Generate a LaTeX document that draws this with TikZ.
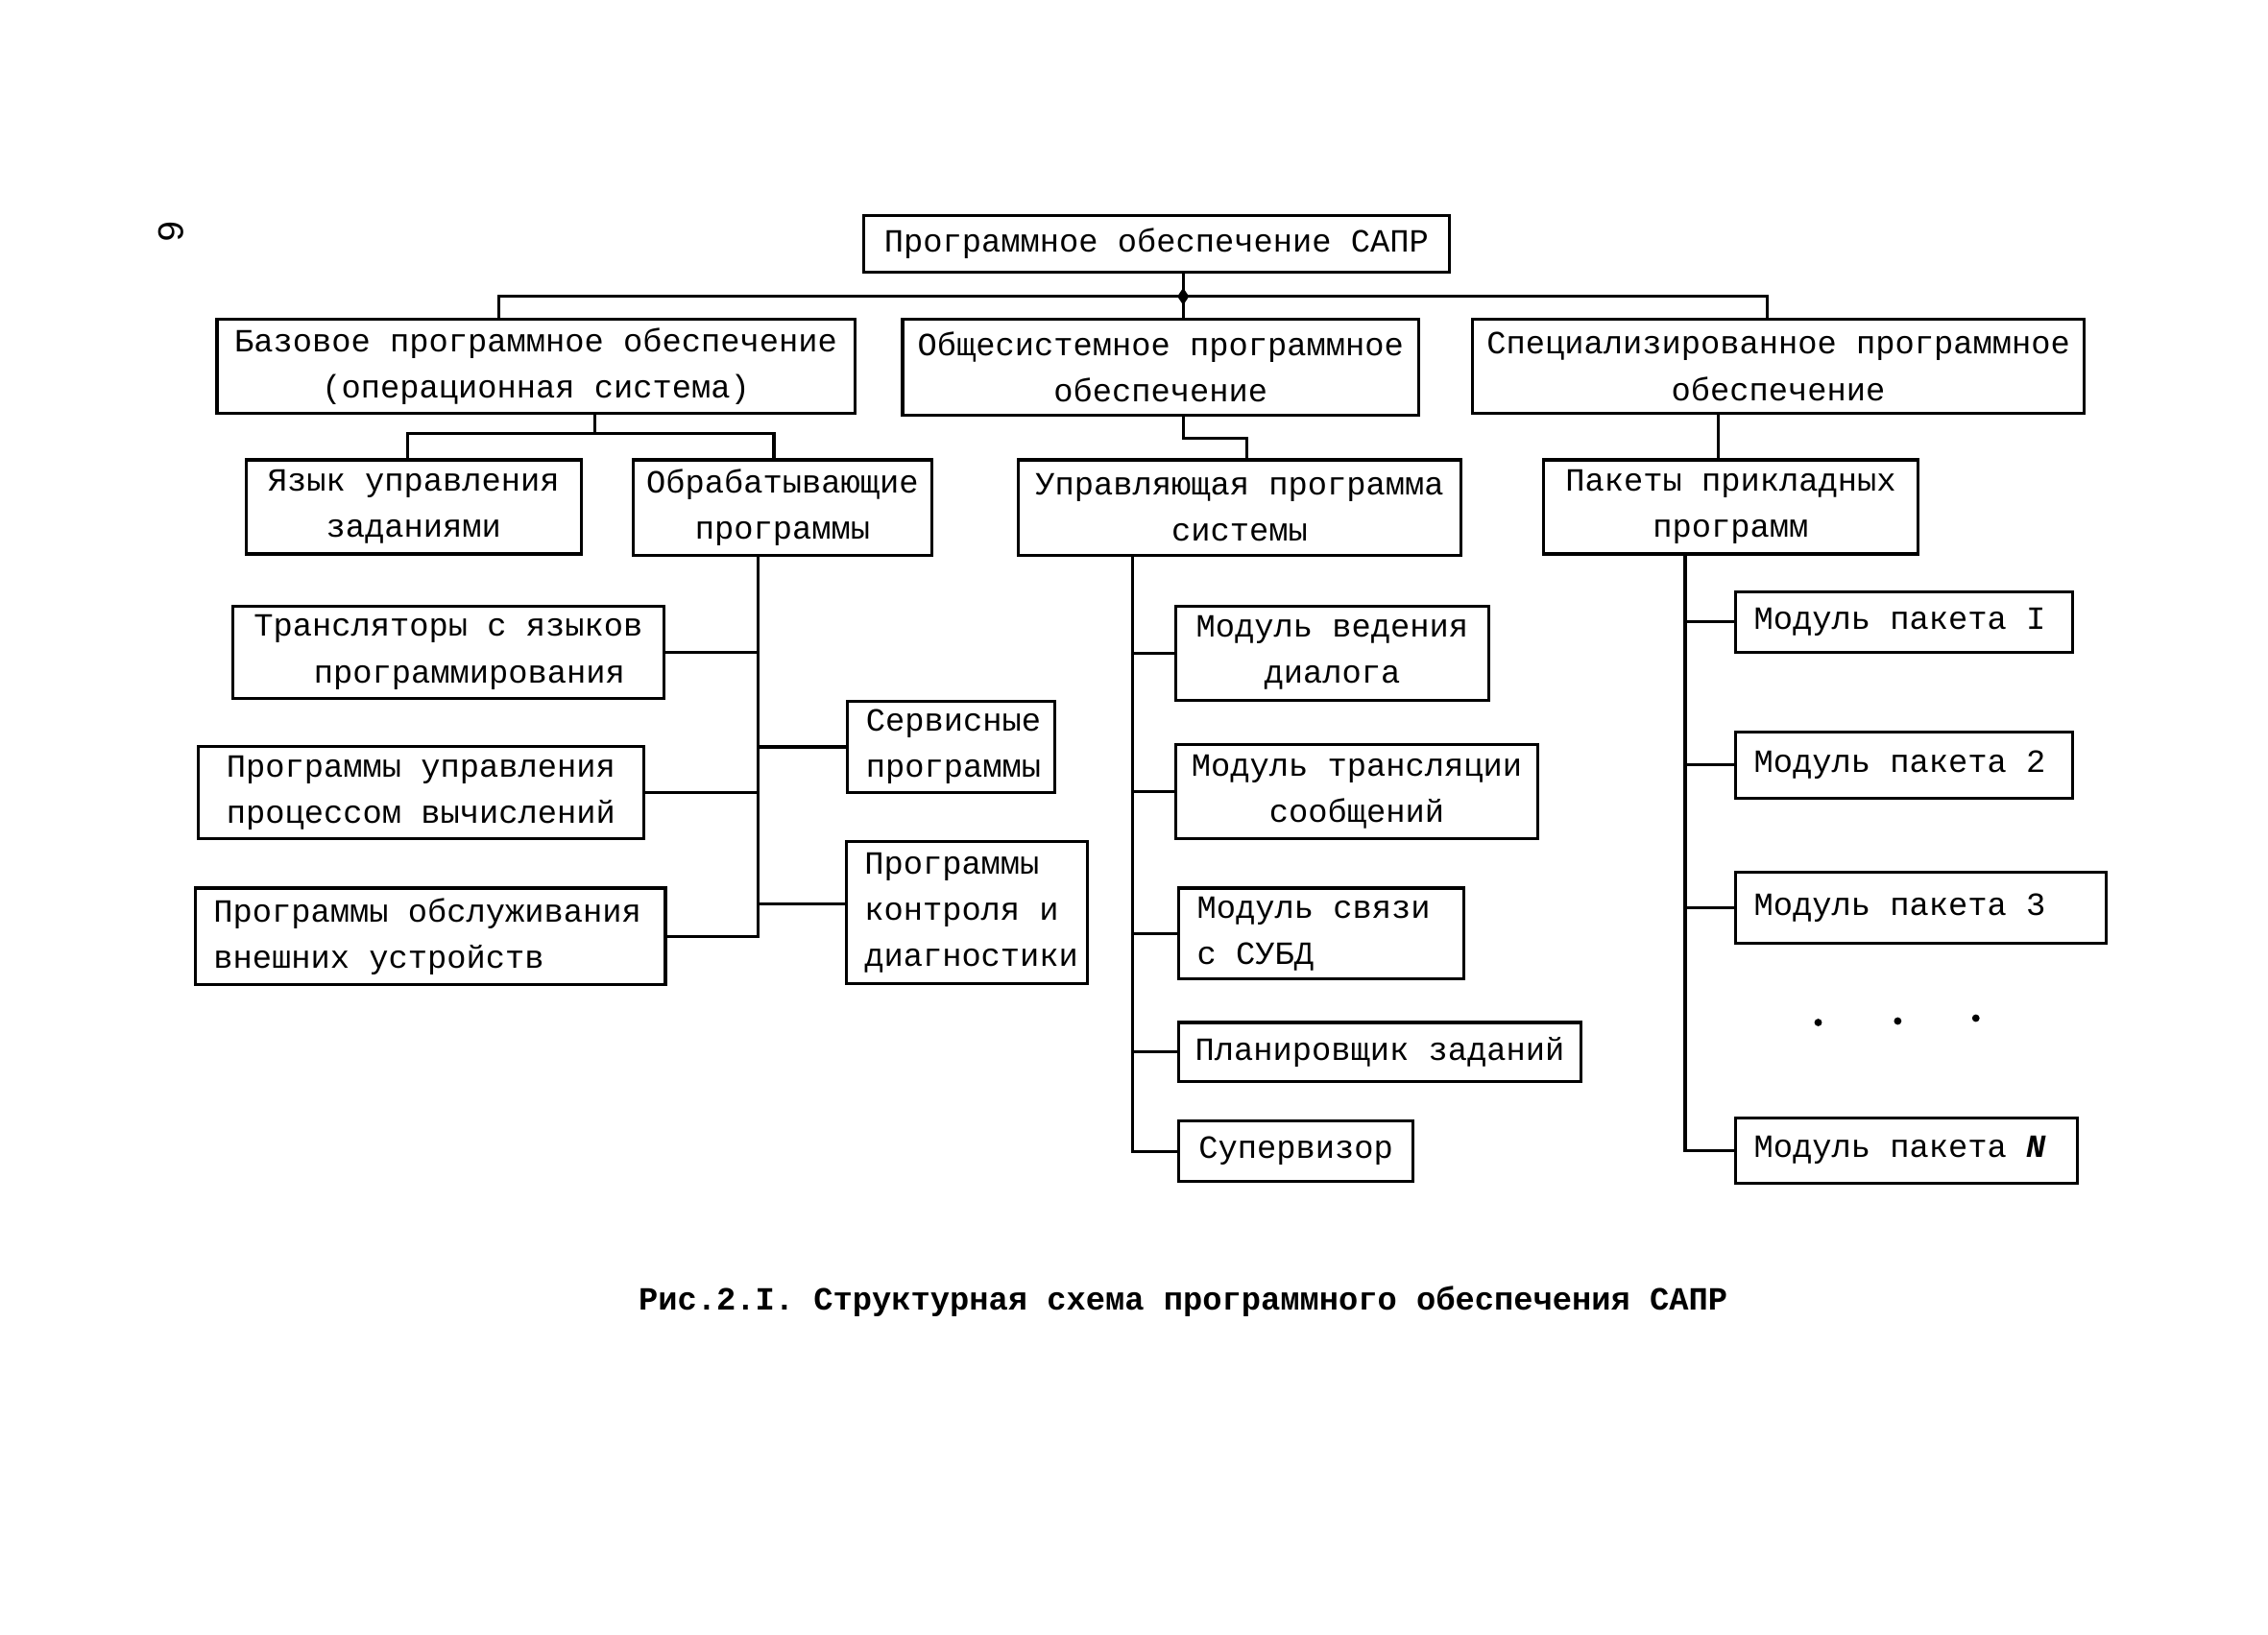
\documentclass[tikz,border=0pt]{standalone}
\usepackage{fontspec}
\setmainfont{Liberation Mono}[WordSpace={1,0,0}]
\begin{document}
\begin{tikzpicture}[x=0.015064cm, y=-0.015064cm,
  bx/.style 2 args={draw, line width=0.9pt, inner sep=0pt,
    minimum width=#1*0.015064cm, minimum height=#2*0.015064cm,
    font=\fontsize{9.6pt}{13.7pt}\selectfont, align=center},
  lbx/.style 2 args={bx={#1}{#2}, align=left, text width=#1*0.015064cm-0.38cm,
    execute at begin node={\spaceskip=0.6em\xspaceskip=0.6em\relax}},
  ln/.style={line width=0.9pt}]
\useasboundingbox (0,0) rectangle (1568,1130);

% page number
\node[rotate=-90, font=\fontsize{11pt}{13pt}\selectfont] (pg) at (118,160) {6};

% level 0
\node[bx={405}{39}] (top) at (799.5,168.5) {Программное обеспечение САПР};

% level 1
\node[bx={441}{65}] (baz) at (370.5,253.5) {Базовое программное обеспечение\\(операционная система)};
\node[bx={357}{66}] (obs) at (802.5,254) {Общесистемное программное\\обеспечение};
\node[bx={423}{65}] (spec) at (1229.5,253.5) {Специализированное программное\\обеспечение};

% level 2
\node[bx={232}{65}] (yaz) at (286,350.5) {Язык управления\\заданиями};
\node[bx={206}{66}] (obr) at (541,351) {Обрабатывающие\\программы};
\node[bx={306}{66}] (upr) at (857,351) {Управляющая программа\\системы};
\node[bx={259}{65}] (pak) at (1196.5,350.5) {Пакеты прикладных\\программ};

% level 3 left
\node[bx={298}{64}] (trn) at (310,451) {Трансляторы с языков\\\hspace*{1.3em}программирования};
\node[bx={308}{64}] (pup) at (291,548) {Программы управления\\процессом вычислений};
\node[lbx={325}{67}] (pob) at (297.5,647.5) {Программы обслуживания\\внешних устройств};
\node[lbx={143}{63}] (ser) at (657.5,516.5) {Сервисные\\программы};
\node[lbx={167}{98}] (kon) at (668.5,631) {Программы\\контроля и\\диагностики};

% level 3 middle
\node[bx={216}{65}] (mvd) at (921,451.5) {Модуль ведения\\диалога};
\node[bx={250}{65}] (mtr) at (938,547.5) {Модуль трансляции\\сообщений};
\node[lbx={197}{63}] (msv) at (913.5,645.5) {Модуль связи\\с СУБД};
\node[bx={278}{41}] (pln) at (954,727.5) {Планировщик заданий};
\node[bx={162}{42}] (sup) at (896,796) {Супервизор};

% level 3 right
\node[lbx={233}{42}] (p1) at (1316.5,430) {Модуль пакета I};
\node[lbx={233}{46}] (p2) at (1316.5,529) {Модуль пакета 2};
\node[lbx={256}{49}] (p3) at (1328,627.5) {Модуль пакета 3};
\node[lbx={236}{45}] (pn) at (1318,795.5) {Модуль пакета \textbf{\textit{N}}};

% dots
\fill (1257,707) circle (2.6);
\fill (1312,706) circle (2.6);
\fill (1366,704) circle (2.6);

% caption
\node[font=\fontsize{9.6pt}{13.7pt}\selectfont\bfseries] (cap) at (818,900) {Рис.2.I. Структурная схема программного обеспечения САПР};

% connectors level 0 -> 1
\coordinate (j0) at (818,205);
\coordinate (bL) at (345,205);
\coordinate (bR) at (1222,205);
\draw[ln] (top.south -| j0) -- (obs.north -| j0);
\draw[ln] (baz.north -| bL) -- (bL) -- (bR) -- (spec.north -| bR);
\fill (j0) ++(0,-6) -- ++(4,6) -- ++(-4,6) -- ++(-4,-6) -- cycle;

% level 1 -> 2
\coordinate (b2) at (411,300);
\coordinate (b2L) at (282,300);
\coordinate (b2R) at (535,300);
\draw[ln] (baz.south -| b2) -- (b2);
\draw[ln] (yaz.north -| b2L) -- (b2L) -- (b2R) -- (obr.north -| b2R);
\coordinate (c1) at (818,303);
\coordinate (c2) at (862,303);
\draw[ln] (obs.south -| c1) -- (c1) -- (c2) -- (upr.north -| c2);
\coordinate (pk) at (1188,300);
\draw[ln] (spec.south -| pk) -- (pak.north -| pk);

% left trunk
\coordinate (tL) at (524,400);
\draw[ln] (obr.south -| tL) -- (pob.east -| tL) -- (pob.east);
\draw[ln] (trn.east) -- (trn.east -| tL);
\draw[ln] (pup.east) -- (pup.east -| tL);
\draw[ln] (ser.west -| tL) -- (ser.west);
\draw[ln] ([yshift=0.09cm]kon.west -| tL) -- ([yshift=0.09cm]kon.west);

% middle trunk
\coordinate (tM) at (783,400);
\draw[ln] (upr.south -| tM) -- (sup.west -| tM) -- (sup.west);
\draw[ln] (mvd.west -| tM) -- (mvd.west);
\draw[ln] (mtr.west -| tM) -- (mtr.west);
\draw[ln] (msv.west -| tM) -- (msv.west);
\draw[ln] (pln.west -| tM) -- (pln.west);

% right trunk
\coordinate (tR) at (1165,400);
\draw[ln] (pak.south -| tR) -- (pn.west -| tR) -- (pn.west);
\draw[ln] (p1.west -| tR) -- (p1.west);
\draw[ln] (p2.west -| tR) -- (p2.west);
\draw[ln] (p3.west -| tR) -- (p3.west);
\end{tikzpicture}
\end{document}
